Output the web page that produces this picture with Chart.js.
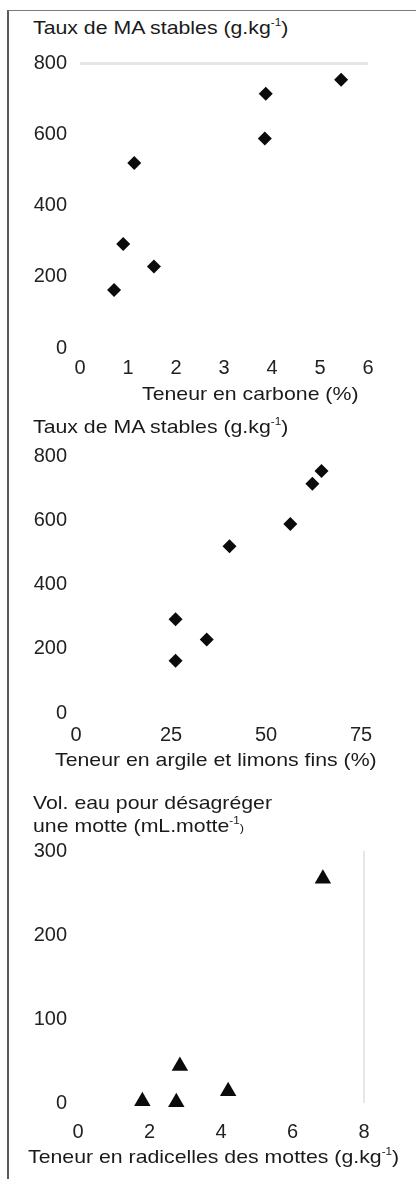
<!DOCTYPE html>
<html>
<head>
<meta charset="utf-8">
<script src="https://cdn.jsdelivr.net/npm/chart.js@4.4.1/dist/chart.umd.min.js"></script>
<style>
  body { margin: 0; background: #fff; }
  #page { position: relative; width: 416px; height: 1179px; overflow: hidden; font-family: "Liberation Sans", Arial, sans-serif; color: #1a1a1a; }
  .frame { position: absolute; left: 7px; top: 10px; width: 407px; height: 1169px; border-left: 2px solid #5a5a5a; border-top: 1px solid #7a7a7a; border-right: 1px solid #e4e4e4; }
  canvas.panel { position: absolute; left: 0; }
  .lbl { position: absolute; font-size: 19px; line-height: 22.8px; white-space: nowrap; transform: scaleX(1.12); transform-origin: 0 0; }
  sup { font-size: 0.55em; vertical-align: 0.75em; line-height: 0; }
  .sm { font-size: 0.6em; }
</style>
</head>
<body>
<div id="page">
  <div class="frame"></div>
  <canvas id="c1" class="panel" width="416" height="380" style="top:40px"></canvas>
  <canvas id="c2" class="panel" width="416" height="370" style="top:430px"></canvas>
  <canvas id="c3" class="panel" width="416" height="349" style="top:830px"></canvas>

  <div class="lbl" style="left:33px; top:17px">Taux de MA stables (g.kg<sup>-1</sup>)</div>
  <div class="lbl" style="left:142px; top:383px">Teneur en carbone (%)</div>
  <div class="lbl" style="left:33px; top:416px">Taux de MA stables (g.kg<sup>-1</sup>)</div>
  <div class="lbl" style="left:55px; top:749px">Teneur en argile et limons fins (%)</div>
  <div class="lbl" style="left:33px; top:792px">Vol. eau pour désagréger<br>une motte (mL.motte<sup>-1</sup><span class="sm">)</span></div>
  <div class="lbl" style="left:28px; top:1146px">Teneur en radicelles des mottes (g.kg<sup>-1</sup>)</div>
</div>

<script>
// panel 1 : MA stables vs carbone
const carbone = [0.71, 0.9, 1.13, 1.54, 3.87, 3.85, 5.44];
const maStables = [163, 292, 519, 229, 714, 588, 753];
const carboneTicks = [0, 1, 2, 3, 4, 5, 6];
const maTicks = [0, 200, 400, 600, 800];

// panel 2 : MA stables vs argile + limons fins
const argile = [26.2, 26.2, 40.4, 34.4, 62.2, 56.4, 64.6];
const argileTicks = [0, 25, 50, 75];

// panel 3 : volume d'eau vs radicelles
const radicelles = [1.8, 2.75, 2.85, 4.2, 6.85];
const volEau = [2, 1, 44, 14, 267];
const radicellesTicks = [0, 2, 4, 6, 8];
const volTicks = [0, 100, 200, 300];

const tickFont = { family: '"Liberation Sans", Arial, sans-serif', size: 20, lineHeight: 1 };
const ink = '#0b0b0b';

function bandColor(at) {
  return c => (at !== undefined && c.tick && c.tick.value === at) ? '#e6e6e6' : 'rgba(0,0,0,0)';
}

function makeChart(id, xs, ys, xTicks, yTicks, o) {
  const pts = xs.map((x, i) => ({ x: x, y: ys[i] }));
  return new Chart(document.getElementById(id), {
    type: 'scatter',
    data: {
      datasets: [{
        data: pts,
        pointStyle: o.style,
        pointRadius: o.r,
        pointHoverRadius: o.r,
        backgroundColor: ink,
        borderColor: ink,
        borderWidth: 0,
        clip: false
      }]
    },
    options: {
      responsive: false,
      animation: false,
      devicePixelRatio: 1,
      events: [],
      layout: { padding: o.pad },
      plugins: { legend: { display: false }, tooltip: { enabled: false } },
      scales: {
        x: {
          type: 'linear',
          min: xTicks[0],
          max: xTicks[xTicks.length - 1],
          afterBuildTicks: s => { s.ticks = xTicks.map(v => ({ value: v })); },
          afterFit: s => { s.height = 40; },
          grid: { drawTicks: false, color: bandColor(o.xBand), lineWidth: 2 },
          border: { display: false },
          ticks: { font: tickFont, color: '#222', padding: o.xPad }
        },
        y: {
          type: 'linear',
          min: yTicks[0],
          max: yTicks[yTicks.length - 1],
          afterBuildTicks: s => { s.ticks = yTicks.map(v => ({ value: v })); },
          afterFit: s => { s.width = o.yW; },
          grid: { drawTicks: false, color: bandColor(o.yBand), lineWidth: 3 },
          border: { display: false },
          ticks: { font: tickFont, color: '#222', padding: o.yPad }
        }
      }
    }
  });
}

makeChart('c1', carbone, maStables, carboneTicks, maTicks, {
  style: 'rectRot', r: 7, yW: 70, yPad: 13, xPad: 10.5, yBand: 800,
  pad: { left: 10, right: 48, top: 17, bottom: 32 }
});

makeChart('c2', argile, maStables, argileTicks, maTicks, {
  style: 'rectRot', r: 7, yW: 66, yPad: 9, xPad: 12.5,
  pad: { left: 10, right: 55, top: 26, bottom: 47 }
});

makeChart('c3', radicelles, volEau, radicellesTicks, volTicks, {
  style: 'triangle', r: 9.5, yW: 68, yPad: 11, xPad: 19.5, xBand: 8,
  pad: { left: 10, right: 52, top: 20, bottom: 36 }
});
</script>
</body>
</html>
